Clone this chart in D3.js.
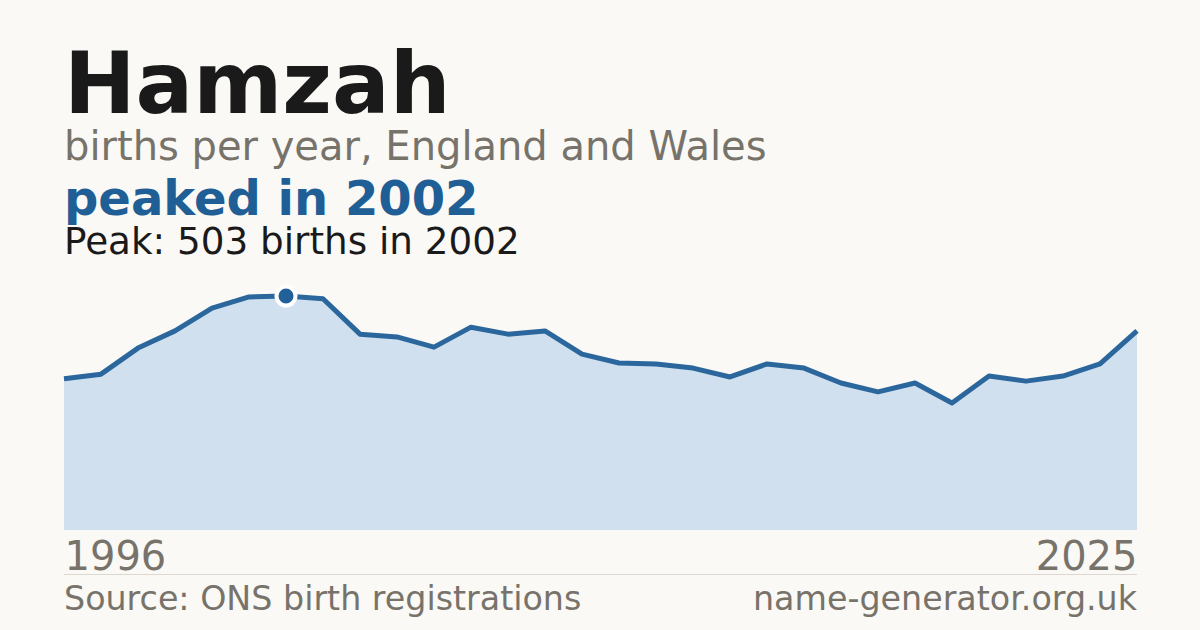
<!DOCTYPE html>
<html><head><meta charset="utf-8">
<script src="https://cdn.jsdelivr.net/npm/d3@7"></script>
<style>html,body{margin:0;padding:0;background:#faf9f5;}svg{display:block;}</style>
</head><body>
<svg id="c" width="1200" height="630"></svg>
<script>
const years = [1996,1997,1998,1999,2000,2001,2002,2003,2004,2005,2006,2007,2008,2009,2010,2011,2012,2013,2014,2015,2016,2017,2018,2019,2020,2021,2022,2023,2024,2025];
const births = [325,335,391,428,477,501,503,497,421,415,393,436,421,428,378,359,357,348,329,357,348,316,297,316,273,331,320,331,357,428];
const peakYear = 2002, peakValue = 503;
const titleText = "Hamzah";
const subtitleText = "births per year, England and Wales";
const headlineText = "peaked in 2002";
const peakText = "Peak: 503 births in 2002";
const sourceText = "Source: ONS birth registrations";
const siteText = "name-generator.org.uk";

const svg = d3.select("#c");
const font = "'DejaVu Sans', sans-serif";
svg.append("rect").attr("width",1200).attr("height",630).attr("fill","#faf9f5");

const x = d3.scaleLinear().domain([years[0], years[years.length-1]]).range([64,1137]);
const y = d3.scaleLinear().domain([0, peakValue]).range([530,296]);
const data = years.map((yr,i)=>({yr, v:births[i]}));

svg.append("path").datum(data)
  .attr("d", d3.area().x(d=>x(d.yr)).y0(y(0)).y1(d=>y(d.v)))
  .attr("fill","#d0e0ef");
svg.append("path").datum(data)
  .attr("d", d3.line().x(d=>x(d.yr)).y(d=>y(d.v)))
  .attr("fill","none").attr("stroke","#2b679c").attr("stroke-width",5).attr("stroke-linejoin","round");
svg.append("circle").attr("cx",x(peakYear)).attr("cy",y(peakValue)).attr("r",9.5)
  .attr("fill","#22609a").attr("stroke","#ffffff").attr("stroke-width",4);

function t(txt,xx,yy,size,fill,weight,anchor){
  svg.append("text").attr("x",xx).attr("y",yy).attr("font-family",font).attr("font-size",size)
    .attr("font-weight",weight||"normal").attr("fill",fill).attr("text-anchor",anchor||"start").text(txt);
}
t(titleText,64,113,85.5,"#1a1a1a","bold");
t(subtitleText,64,160,40,"#77736b");
t(headlineText,64,215,48,"#1f5f96","bold");
t(peakText,64,254,37.3,"#1a1a1a");

const axisG = svg.append("g").attr("transform","translate(0,530)");
axisG.call(d3.axisBottom(x).tickValues([years[0], years[years.length-1]]).tickFormat(d3.format("d")).tickSize(0).tickPadding(0))
  .call(g=>g.select(".domain").remove());
axisG.selectAll(".tick text").attr("font-family",font).attr("font-size",40).attr("fill","#77736b")
  .attr("dy",null).attr("y",40)
  .attr("text-anchor",(d,i)=>i===0?"start":"end");

svg.append("line").attr("x1",64).attr("x2",1137).attr("y1",574.5).attr("y2",574.5).attr("stroke","#dcd8d0").attr("stroke-width",1);
t(sourceText,64,610,33.3,"#77736b");
t(siteText,1137,610,33.3,"#77736b","normal","end");
</script>
</body></html>
